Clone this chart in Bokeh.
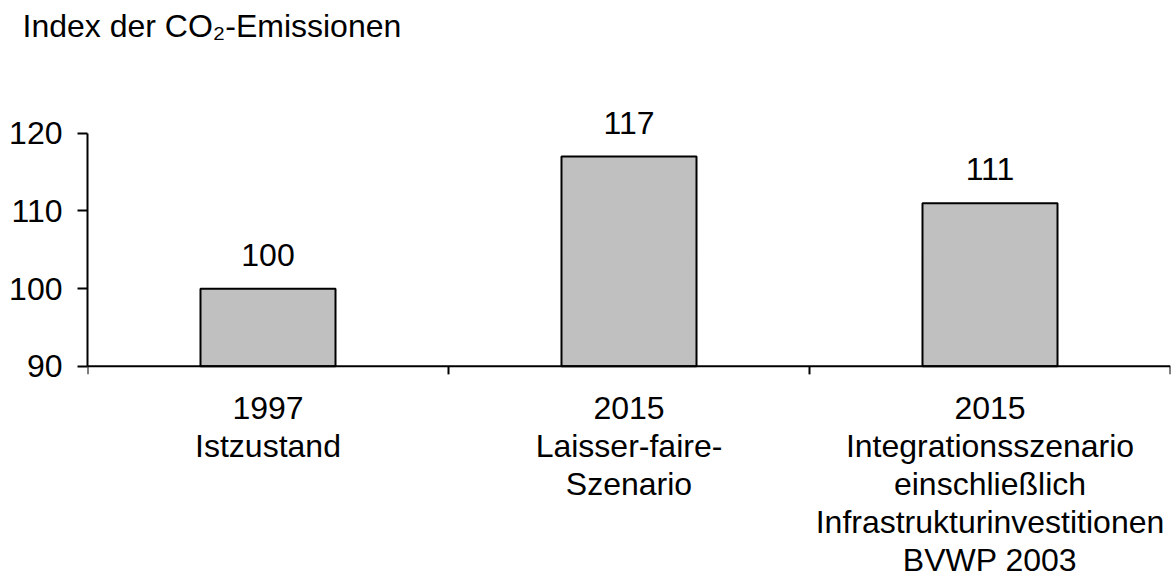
from bokeh.plotting import figure
from bokeh.models import ColumnDataSource, FixedTicker, Range1d, Span
from bokeh.embed import file_html
from bokeh.resources import INLINE
from bokeh.core.properties import value

categories = ["1997\nIstzustand",
              "2015\nLaisser-faire-\nSzenario",
              "2015\nIntegrationsszenario\neinschließlich\nInfrastrukturinvestitionen\nBVWP 2003"]
values = [100, 117, 111]
y_ticks = [90, 100, 110, 120]
title_text = "Index der CO\u2082-Emissionen"

FONT = "Liberation Sans"
FS = "32px"
BASE = 90

n = len(categories)
xpos = [i + 0.5 for i in range(n)]
src = ColumnDataSource(dict(x=xpos, top=values, label=[str(v) for v in values]))

# category label lines (one text row per line)
lx, lt, lo = [], [], []
for x, c in zip(xpos, categories):
    for j, line in enumerate(c.split("\n")):
        lx.append(x)
        lt.append(line)
        lo.append(42 + 37.8 * j)
lab_src = ColumnDataSource(dict(x=lx, y=[BASE] * len(lx), text=lt, off=lo))

px_per_unit = 233 / 30.0
p = figure(width=1171, height=580, output_backend="svg", toolbar_location=None,
           x_range=Range1d(0, n),
           y_range=Range1d(BASE - 214 / px_per_unit, 130.9),
           x_axis_location=None,
           min_border_left=87, min_border_right=1, min_border_top=0,
           min_border_bottom=0, title=title_text)
p.outline_line_color = None
p.grid.grid_line_color = None
p.background_fill_color = "white"
p.border_fill_color = "white"

p.title.text_font = FONT
p.title.text_font_size = FS
p.title.text_font_style = "normal"
p.title.text_color = "black"
p.title.align = "left"
p.title.offset = -65

p.vbar(x="x", top="top", bottom=BASE, width=0.374, source=src,
       fill_color="#C0C0C0", line_color="black", line_width=2)
p.text(x="x", y="top", text="label", source=src, y_offset=-34,
       text_align="center", text_baseline="alphabetic",
       text_font=value(FONT), text_font_size=FS, text_color="black")

# x axis line, ticks between categories, labels
p.add_layout(Span(location=BASE, dimension="width", line_color="black", line_width=2))
bounds = list(range(n + 1))
p.segment(x0=bounds, y0=[BASE] * len(bounds), x1=bounds,
          y1=[BASE - 8 / px_per_unit] * len(bounds), line_color="black", line_width=2)
p.text(x="x", y="y", text="text", y_offset="off", source=lab_src,
       text_align="center", text_baseline="alphabetic",
       text_font=value(FONT), text_font_size=FS, text_color="black")

# y axis
ya = p.yaxis[0]
ya.ticker = FixedTicker(ticks=y_ticks)
ya.bounds = (BASE, 120)
ya.axis_line_color = "black"
ya.axis_line_width = 2
ya.major_tick_line_color = "black"
ya.major_tick_line_width = 2
ya.major_tick_out = 10
ya.major_tick_in = 0
ya.minor_tick_line_color = None
ya.major_label_standoff = 15
ya.major_label_text_font = FONT
ya.major_label_text_font_size = FS
ya.major_label_text_color = "black"

open("out.html", "w").write(file_html(p, INLINE))
